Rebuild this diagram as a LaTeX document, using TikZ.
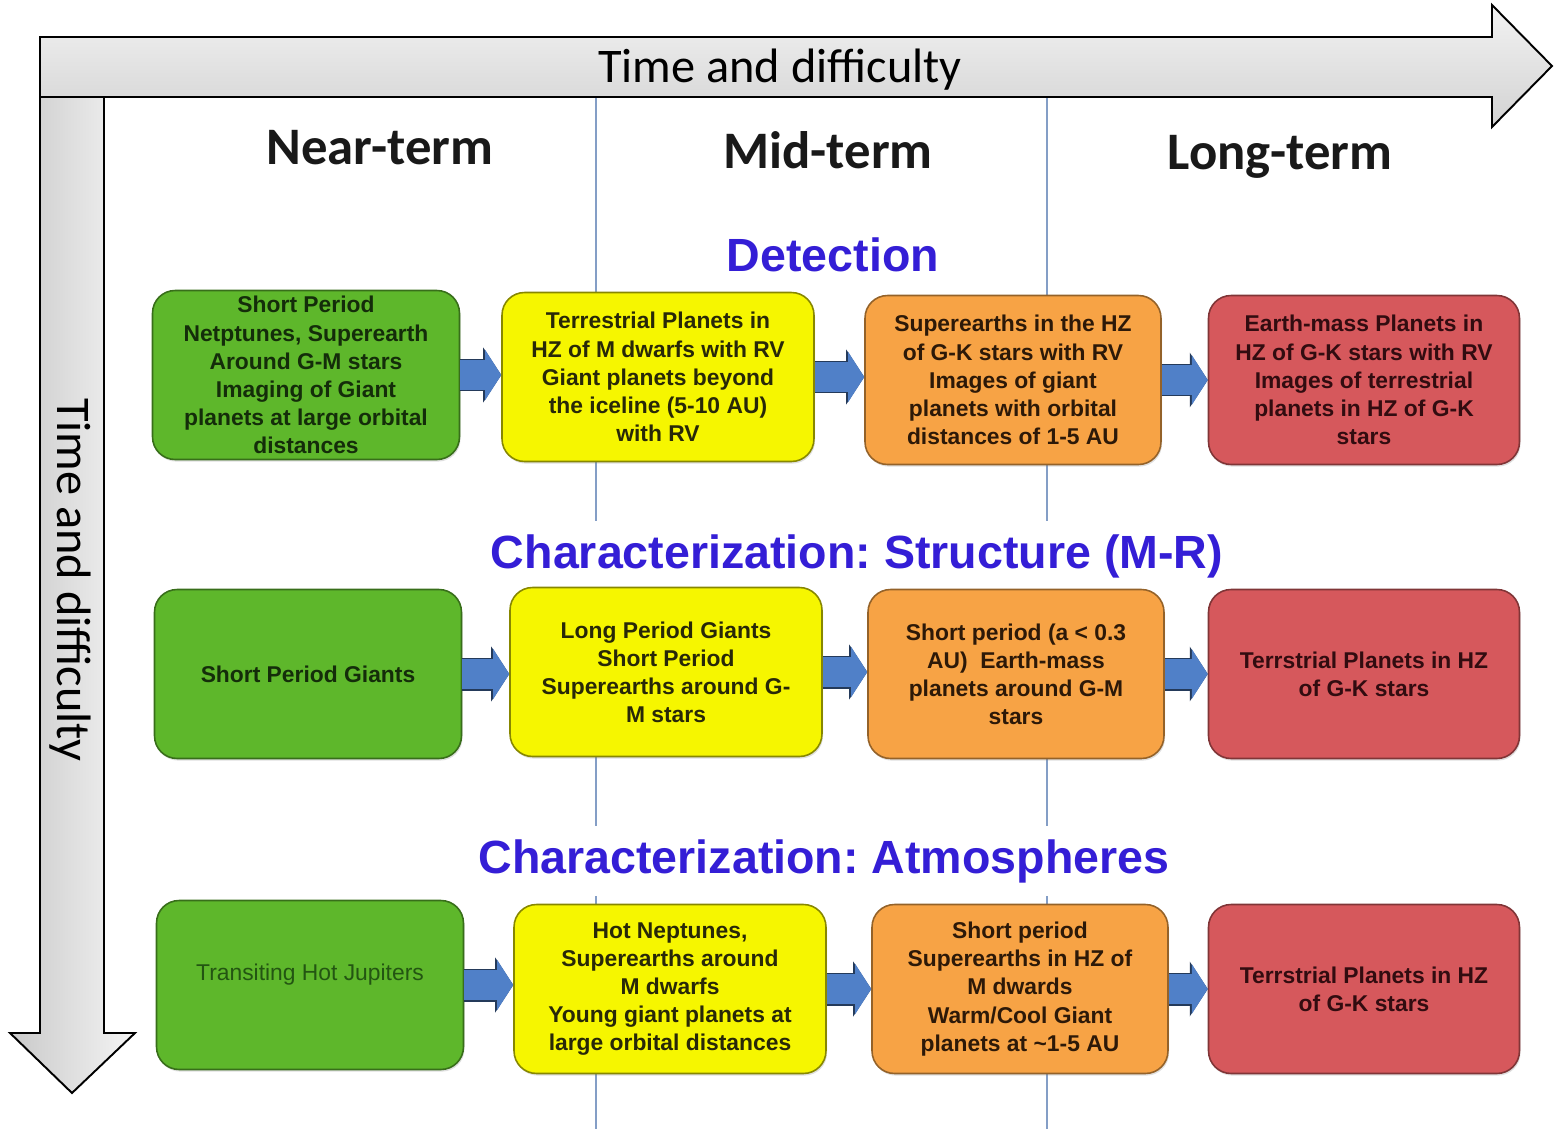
\documentclass[tikz,border=0pt]{standalone}
\usepackage{fontspec}
\setmainfont{Liberation Sans}
\newfontfamily\calfont{Carlito}
\usetikzlibrary{positioning, calc}
\usetikzlibrary{arrows.meta, shadows}
\frenchspacing

\definecolor{neargreen}{RGB}{94,183,43}
\definecolor{midyellow}{RGB}{246,246,0}
\definecolor{farorange}{RGB}{247,163,69}
\definecolor{longred}{RGB}{214,88,92}
\definecolor{flowblue}{RGB}{80,128,200}
\definecolor{topicblue}{RGB}{52,30,214}
\definecolor{dividerblue}{RGB}{132,158,198}

\tikzset{
  stage/.style={draw, line width=0.9pt, rounded corners=0.45cm, minimum height=3.38cm,
    align=center, inner xsep=2pt, inner ysep=0pt, font=\fontsize{13}{16}\selectfont\bfseries,
    drop shadow={opacity=0.25, shadow xshift=0.6pt, shadow yshift=-1.2pt}},
  near/.style={stage, fill=neargreen, draw=neargreen!60!black, text={rgb,255:red,20;green,45;blue,10}, minimum width=6.14cm},
  mid/.style={stage, fill=midyellow, draw=midyellow!55!black, text={rgb,255:red,40;green,40;blue,8}, minimum width=6.24cm},
  far/.style={stage, fill=farorange, draw=farorange!60!black, text={rgb,255:red,45;green,25;blue,8}, minimum width=5.92cm},
  longt/.style={stage, fill=longred, draw=longred!60!black, text={rgb,255:red,50;green,12;blue,16}, minimum width=6.22cm},
  flow/.style={draw=flowblue, line width=0.6cm, -{Triangle[width=1cm, length=0.32cm, line width=0pt]},
    preaction={draw=flowblue!45!black, line width=0.66cm, -{Triangle[width=1.1cm, length=0.36cm, line width=0pt]}}},
  divider/.style={draw=dividerblue, line width=1.5pt},
  axisarrow/.style={draw=black, line width=1.1pt},
  axislabel/.style={font=\calfont\fontsize{27.5}{30}\selectfont},
  term/.style={font=\calfont\fontsize{30}{34}\selectfont\bfseries, text=black!90},
  topic/.style={font=\fontsize{26.5}{30}\selectfont\bfseries, text=topicblue, fill=white, minimum height=1.4cm},
}

\begin{document}
\begin{tikzpicture}[x=0.02cm, y=-0.02cm]
  \useasboundingbox (0,0) rectangle (1560,1129);

  % lines between the terms
  \draw[divider] (596,97) -- (596,1129);
  \draw[divider] (1047,97) -- (1047,1129);

  % the two time axes
  \path[axisarrow, left color=gray!42, right color=gray!8] (40,97) -- (104,97) -- (104,1033) -- (135,1033)
    -- (72,1093) -- (10,1033) -- (40,1033) -- cycle;
  \path[axisarrow, top color=gray!10, bottom color=gray!35] (40,37) -- (1492,37) -- (1492,5) -- (1552,66)
    -- (1492,127) -- (1492,97) -- (40,97) -- cycle;
  \node[axislabel] (timeh) at (780,70) {Time and difficulty};
  \node[axislabel, rotate=-90] (timev) at (70,580) {Time and difficulty};

  % terms
  \node[term] (nearterm) at (380,148) {Near-term};
  \node[term] (midterm) at (828,150) {Mid-term};
  \node[term] (longterm) at (1280,157) {Long-term};

  % topics
  \node[topic] (detect) at (833,255) {Detection};
  \node[topic] (struct) at (857,556) {Characterization: Structure (M-R)};
  \node[topic] (atmos) at (824,861) {Characterization: Atmospheres};

  % detection
  \node[near] (g1) at (306,375) {Short Period\\Netptunes, Superearth\\Around G-M stars\\Imaging of Giant\\planets at large orbital\\distances};
  \node[mid] (y1) at (658,377) {Terrestrial Planets in\\HZ of M dwarfs with RV\\Giant planets beyond\\the iceline (5-10 AU)\\with RV};
  \node[far] (o1) at (1013,380) {Superearths in the HZ\\of G-K stars with RV\\Images of giant\\planets with orbital\\distances of 1-5 AU};
  \node[longt] (r1) at (1364,380) {Earth-mass Planets in\\HZ of G-K stars with RV\\Images of terrestrial\\planets in HZ of G-K\\stars};

  % structure
  \node[near] (g2) at (308,674) {Short Period Giants};
  \node[mid] (y2) at (666,672) {Long Period Giants\\Short Period\\Superearths around G-\\M stars};
  \node[far] (o2) at (1016,674) {Short period (a < 0.3\\AU)\ \ Earth-mass\\planets around G-M\\stars};
  \node[longt] (r2) at (1364,674) {Terrstrial Planets in HZ\\of G-K stars};

  % atmospheres
  \node[near, font=\fontsize{13}{16}\selectfont, text={rgb,255:red,35;green,85;blue,18}] (g3) at (310,985) {\raisebox{14pt}{Transiting Hot Jupiters}};
  \node[mid] (y3) at (670,989) {Hot Neptunes,\\Superearths around\\M dwarfs\\Young giant planets at\\large orbital distances};
  \node[far] (o3) at (1020,989) {Short period\\Superearths in HZ of\\M dwards\\Warm/Cool Giant\\planets at \textasciitilde1-5 AU};
  \node[longt] (r3) at (1364,989) {Terrstrial Planets in HZ\\of G-K stars};

  % steps
  \draw[flow] (g1.east) -- (g1.east -| y1.west);
  \draw[flow] (y1.east) -- (y1.east -| o1.west);
  \draw[flow] (o1.east) -- (o1.east -| r1.west);
  \draw[flow] (g2.east) -- (g2.east -| y2.west);
  \draw[flow] (y2.east) -- (y2.east -| o2.west);
  \draw[flow] (o2.east) -- (o2.east -| r2.west);
  \draw[flow] (g3.east) -- (g3.east -| y3.west);
  \draw[flow] (y3.east) -- (y3.east -| o3.west);
  \draw[flow] (o3.east) -- (o3.east -| r3.west);
\end{tikzpicture}
\end{document}
